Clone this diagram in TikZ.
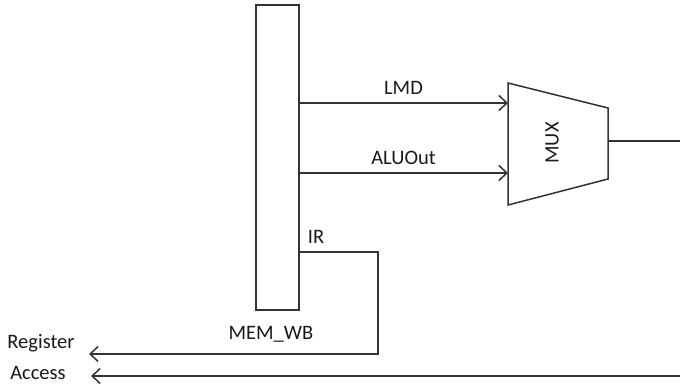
\documentclass[tikz,border=0pt]{standalone}
\usepackage{fontspec}
\setmainfont{Carlito}
\usetikzlibrary{arrows.meta}
\begin{document}
\begin{tikzpicture}[x=1pt,y=-1pt,
  wire/.style={line width=1.5pt, draw=black!80},
  sig/.style={wire, -{Straight Barb[length=8pt,width=15pt,line width=1.5pt]}},
  lbl/.style={font=\fontsize{20.5}{24}\selectfont, text=black!90, inner sep=0pt}]
\useasboundingbox (0,0) rectangle (680,387);
% pipeline register
\draw[wire] (256,5) rectangle (299,310);
\node[lbl] (memwb) at (271,334) {MEM\_WB};
% MUX trapezoid
\draw[wire] (508,83) -- (608,108) -- (608,179) -- (508,205) -- cycle;
\node[lbl, rotate=90] (mux) at (552,143) {MUX};
\coordinate (muxin1) at (508,103);
\coordinate (muxin2) at (508,173);
\coordinate (muxout) at (608,141);
\coordinate (outend) at (680,141);
\coordinate (lmdsrc) at (299,103);
\coordinate (alusrc) at (299,173);
\draw[sig] (lmdsrc) -- node[lbl, above=8pt] (lmd) {LMD} (muxin1);
\draw[sig] (alusrc) -- node[lbl, above=8pt] (aluout) {ALUOut} (muxin2);
\draw[wire] (muxout) -- (outend);
% IR path
\coordinate (irsrc) at (299,252);
\coordinate (ircorner) at (378,252);
\coordinate (irdown) at (378,354);
\coordinate (regtip) at (89,354);
\node[lbl] (ir) at (316,237) {IR};
\draw[sig] (irsrc) -- (ircorner) -- (irdown) -- (regtip);
% access path
\coordinate (accsrc) at (680,376);
\coordinate (acctip) at (91,376);
\draw[sig] (accsrc) -- (acctip);
% labels
\node[lbl] (register) at (41,343) {Register};
\node[lbl] (access) at (38,373) {Access};
\end{tikzpicture}
\end{document}
